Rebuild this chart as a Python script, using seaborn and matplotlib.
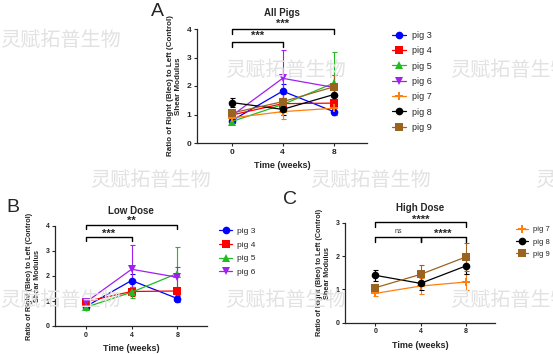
import matplotlib
matplotlib.use("Agg")
import matplotlib.pyplot as plt
import pandas as pd
import seaborn as sns

# Values (mean, error bar half-length) at weeks 0, 4, 8.
weeks = [0, 4, 8]
pigs = ["pig 3", "pig 4", "pig 5", "pig 6", "pig 7", "pig 8", "pig 9"]
means = {
    "pig 3": [0.78, 1.82, 1.10],
    "pig 4": [0.98, 1.38, 1.40],
    "pig 5": [0.75, 1.35, 2.10],
    "pig 6": [0.95, 2.27, 1.95],
    "pig 7": [0.88, 1.10, 1.22],
    "pig 8": [1.42, 1.18, 1.70],
    "pig 9": [1.05, 1.45, 1.97],
}
errs = {
    "pig 3": [0.05, 0.25, 0.12],
    "pig 4": [0.08, 0.18, 0.15],
    "pig 5": [0.05, 0.22, 1.08],
    "pig 6": [0.06, 0.98, 0.42],
    "pig 7": [0.07, 0.25, 0.25],
    "pig 8": [0.17, 0.20, 0.25],
    "pig 9": [0.10, 0.28, 0.42],
}
low_dose = ["pig 3", "pig 4", "pig 5", "pig 6"]
high_dose = ["pig 7", "pig 8", "pig 9"]

colors = {
    "pig 3": "#0000FF", "pig 4": "#FF0000", "pig 5": "#22BB22",
    "pig 6": "#A020F0", "pig 7": "#FF7F0E", "pig 8": "#000000",
    "pig 9": "#9A6420",
}
markers = {
    "pig 3": "o", "pig 4": "s", "pig 5": "^", "pig 6": "v",
    "pig 7": "P", "pig 8": "o", "pig 9": "s",
}

rows = []
for p in pigs:
    for w, m, e in zip(weeks, means[p], errs[p]):
        rows.append({"pig": p, "week": w, "ratio": m, "err": e})
df = pd.DataFrame(rows)

sns.set_style("ticks")
plt.rcParams["font.family"] = ["Liberation Sans", "Noto Sans CJK SC", "DejaVu Sans"]
plt.rcParams["font.weight"] = "bold"

fig = plt.figure(figsize=(5.53, 3.54), dpi=100)

# watermark
wm = "灵赋拓普生物"
for x, y in [(0, 40), (225, 70), (450, 70), (90, 180), (310, 180), (535, 180),
             (0, 300), (225, 300), (450, 300)]:
    fig.text(x / 553, 1 - y / 354, wm, fontsize=14.5, color="#e2e2e2",
             family=["Noto Sans CJK SC"], fontweight="normal",
             va="center", ha="left", zorder=0)


def panel(rect, subset, title, ymax, ticksize, brackets, leg_anchor, leg_font,
          leg_space, title_pad, ylab_size, letter):
    ax = fig.add_axes(rect)
    ax.patch.set_alpha(0)
    sub = df[df["pig"].isin(subset)]
    sns.lineplot(data=sub, x="week", y="ratio", hue="pig", style="pig",
                 hue_order=subset, style_order=subset,
                 palette=colors, markers=markers, dashes=False,
                 markersize=5.5, linewidth=0.9, markeredgewidth=0,
                 ax=ax, zorder=3)
    for p in subset:
        ax.errorbar(weeks, means[p], yerr=errs[p], fmt="none",
                    ecolor=colors[p], elinewidth=0.8, capsize=1.8,
                    capthick=0.8, zorder=2, clip_on=False)
    ax.set_xlim(-2.7, 10.6)
    ax.set_ylim(0, ymax)
    ax.set_xticks(weeks)
    ax.set_yticks(range(0, ymax + 1))
    ax.tick_params(labelsize=ticksize, length=2.5, width=0.8, pad=1.5)
    for s in ["left", "bottom"]:
        ax.spines[s].set_linewidth(0.9)
    sns.despine(ax=ax)
    ax.set_xlabel("Time (weeks)", fontsize=6.5, fontweight="bold", labelpad=4)
    ax.set_ylabel("Ratio of Right (Bleo) to Left (Control)\nShear Modulus",
                  fontsize=ylab_size, fontweight="bold", labelpad=3.5,
                  linespacing=1.1)
    ax.set_title(title, fontsize=7, fontweight="bold", pad=title_pad)
    for x0, x1, yb, leg, label, ty in brackets:
        ax.plot([x0, x0, x1, x1], [yb - leg, yb, yb, yb - leg], color="black",
                lw=1.0, clip_on=False)
        if label == "ns":
            ax.text((x0 + x1) / 2, ty, label, ha="center", va="center",
                    fontsize=5, fontweight="normal", color="#333333",
                    clip_on=False)
        else:
            ax.text((x0 + x1) / 2, ty, label, ha="center", va="center",
                    fontsize=8, fontweight="bold", clip_on=False)
    handles, labels = ax.get_legend_handles_labels()
    ax.legend(handles, labels, loc="upper left", bbox_to_anchor=leg_anchor,
              bbox_transform=fig.transFigure, frameon=False,
              handlelength=1.6, handletextpad=0.6, labelspacing=leg_space,
              borderaxespad=0, borderpad=0,
              prop={"size": leg_font, "weight": "normal"})
    fig.text(letter[0] / 553, 1 - letter[1] / 354, letter[2], fontsize=14,
             fontweight="normal", ha="left", va="center")
    return ax


# A: All pigs
panel([197 / 553, 1 - 143 / 354, 170 / 553, 114 / 354], pigs, "All Pigs", 4, 6,
      [(0, 8, 4.0, 0.19, "***", 4.17), (0, 4, 3.55, 0.19, "***", 3.75)],
      (392 / 553, 1 - 31 / 354), 6.5, 0.7, 9.5, 5.8, (151, 12, "A"))

# B: Low dose
panel([55 / 553, 1 - 326 / 354, 152 / 553, 100 / 354], low_dose, "Low Dose", 4, 5,
      [(0, 8, 4.04, 0.17, "**", 4.19), (0, 4, 3.57, 0.17, "***", 3.67)],
      (219 / 553, 1 - 227 / 354), 6, 0.72, 8.5, 5.2, (6, 208, "B"))

# C: High dose
panel([345 / 553, 1 - 322.7 / 354, 150 / 553, 100 / 354], high_dose, "High Dose", 3, 5,
      [(0, 8, 3.01, 0.13, "****", 3.08), (0, 4, 2.58, 0.15, "ns", 2.73),
       (4, 8, 2.58, 0.15, "****", 2.68)],
      (516 / 553, 1 - 226 / 354), 5.5, 0.65, 8.5, 5.2, (283, 200, "C"))

fig.savefig("out.png", dpi=100)
